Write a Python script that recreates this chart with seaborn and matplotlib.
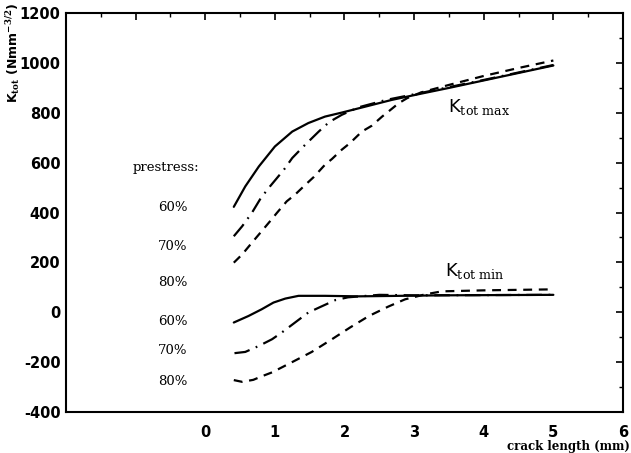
import matplotlib
matplotlib.use("Agg")
import matplotlib.pyplot as plt
from matplotlib.ticker import MultipleLocator, FuncFormatter
import seaborn as sns
import pandas as pd

# crack length (mm) and stress intensity factor values, per prestress level
crack_max_60 = [0.41, 0.575, 0.77, 1.0, 1.25, 1.48, 1.72, 1.96, 2.3, 2.68, 3.1, 3.5, 4.0, 4.5, 5.0]
kmax_60 = [423, 505, 585, 665, 725, 759, 785, 801, 825, 852, 877, 900, 930, 960, 990]

crack_max_70 = [0.41, 0.53, 0.67, 0.8, 0.93, 1.13, 1.25, 1.41, 1.63, 1.78, 1.96, 2.2, 2.6, 3.1, 4.0, 5.0]
kmax_70 = [305, 345, 399, 459, 505, 572, 619, 665, 725, 763, 792, 822, 852, 880, 932, 992]

crack_max_80 = [0.41, 0.53, 0.67, 0.77, 0.93, 1.03, 1.17, 1.29, 1.44, 1.56, 1.72, 1.82, 1.96,
                2.08, 2.25, 2.39, 2.54, 2.63, 2.78, 2.9, 3.1, 3.5, 4.0, 4.5, 5.0]
kmax_80 = [199, 232, 279, 312, 365, 399, 445, 472, 512, 543, 592, 615, 652,
           679, 725, 748, 785, 805, 839, 859, 882, 912, 948, 980, 1010]

crack_min_60 = [0.41, 0.62, 0.81, 0.98, 1.15, 1.34, 1.72, 2.2, 3.4, 4.2, 5.0]
kmin_60 = [-41, -15, 12, 39, 55, 66, 66, 64, 68, 69, 70]

crack_min_70 = [0.42, 0.575, 0.77, 0.96, 1.1, 1.29, 1.48, 1.65, 1.87, 2.05, 2.5, 3.0, 5.0]
kmin_70 = [-164, -159, -135, -108, -81, -41, -1, 21, 49, 60, 70, 68, 70]

crack_min_80 = [0.41, 0.53, 0.69, 0.81, 0.96, 1.24, 1.53, 1.82, 2.08, 2.35, 2.63, 2.87,
                3.16, 3.4, 4.0, 4.5, 5.0]
kmin_80 = [-272, -279, -271, -257, -241, -201, -159, -108, -61, -15, 23, 52,
           72, 84, 88, 90, 92]

prestress_levels = ["60%", "70%", "80%"]

sns.set_theme(style="white")
plt.rcParams["axes.unicode_minus"] = False
plt.rcParams["mathtext.fontset"] = "dejavuserif"
plt.rcParams["text.color"] = "black"

fig = plt.figure(figsize=(6.31, 4.53), dpi=100)
ax = fig.add_axes([0.1046, 0.0905, 0.8827, 0.8805])

line_kw = dict(color="black", linewidth=1.6, estimator=None, sort=False, ax=ax, legend=False)
styles = {
    "60%": "-",
    "70%": (0, (7, 3, 0.8, 3)),
    "80%": (0, (4, 3)),
}

curves = [
    (crack_max_60, kmax_60, "60%"),
    (crack_max_70, kmax_70, "70%"),
    (crack_max_80, kmax_80, "80%"),
    (crack_min_60, kmin_60, "60%"),
    (crack_min_70, kmin_70, "70%"),
    (crack_min_80, kmin_80, "80%"),
]
for xs, ys, level in curves:
    df = pd.DataFrame({"crack": xs, "K": ys})
    sns.lineplot(data=df, x="crack", y="K", linestyle=styles[level], **line_kw)

ax.set_xlim(-2, 6)
ax.set_ylim(-400, 1200)
ax.xaxis.set_major_locator(MultipleLocator(1))
ax.xaxis.set_minor_locator(MultipleLocator(0.5))
ax.yaxis.set_major_locator(MultipleLocator(200))
ax.yaxis.set_minor_locator(MultipleLocator(100))
ax.xaxis.set_major_formatter(FuncFormatter(lambda v, p: "" if v < -0.01 else f"{v:.0f}"))
ax.yaxis.set_major_formatter(FuncFormatter(lambda v, p: f"{v:.0f}"))

ax.tick_params(which="both", direction="in", top=True, right=True, color="black")
ax.tick_params(which="major", length=5, width=1.2)
ax.tick_params(which="minor", length=3, width=1.0)
ax.tick_params(axis="x", which="major", pad=9)
ax.tick_params(axis="y", which="major", pad=4)
for lab in ax.get_xticklabels() + ax.get_yticklabels():
    lab.set_fontweight("bold")
    lab.set_fontsize(10.5)
    lab.set_color("black")
for sp in ax.spines.values():
    sp.set_color("black")
    sp.set_linewidth(1.5)

ax.set_xlabel("")
ax.set_ylabel("")
fig.text(0.999, 0.014, "crack length (mm)", ha="right", va="center",
         fontsize=8.5, fontweight="bold", family="DejaVu Serif")
fig.text(0.02, 0.995, r"K$_{\mathbf{tot}}$ (Nmm$^{\mathbf{-3/2}}$)", rotation=90,
         ha="center", va="top", fontsize=9, fontweight="bold")

serif = dict(family="DejaVu Serif", fontsize=9.5, ha="center", va="center", color="black")
ax.text(-0.57, 580, "prestress:", **serif)
for level, y in zip(prestress_levels, [420, 264, 120]):
    ax.text(-0.47, y, level, **serif)
for level, y in zip(prestress_levels, [-36, -152, -276]):
    ax.text(-0.47, y, level, **serif)

ax.text(3.48, 824, r"K$_{\mathrm{tot\ max}}$", fontsize=13, ha="left", va="center", color="black")
ax.text(3.44, 164, r"K$_{\mathrm{tot\ min}}$", fontsize=13, ha="left", va="center", color="black")

fig.savefig("out.png", dpi=100)
